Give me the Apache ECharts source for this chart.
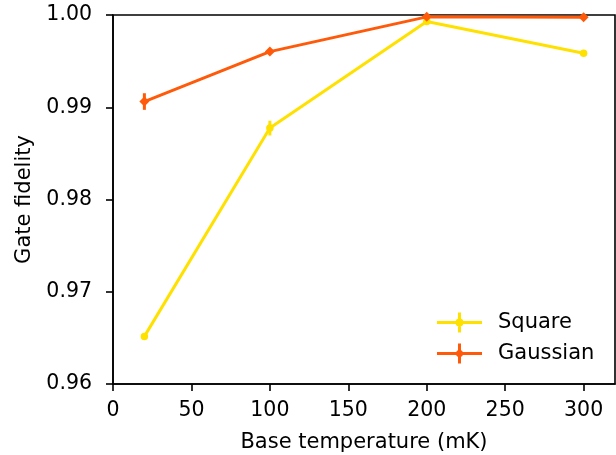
<!DOCTYPE html>
<html>
<head>
<meta charset="utf-8">
<script src="https://cdn.jsdelivr.net/npm/echarts@6/dist/echarts.min.js"></script>
<style>
  html, body { margin: 0; padding: 0; background: #fff; }
  #chart { width: 616px; height: 455px; }
</style>
</head>
<body>
<div id="chart"></div>
<script>
// data
var temps = [20, 100, 200, 300];
var square_fid = [0.96516, 0.98774, 0.99929, 0.99586];
var square_err = [0.0002, 0.0008, 0.0002, 0.0002];
var gauss_fid = [0.99062, 0.99603, 0.99980, 0.99975];
var gauss_err = [0.0009, 0.0002, 0.0001, 0.0001];
var x_ticks = [0, 50, 100, 150, 200, 250, 300];
var y_ticks = [0.96, 0.97, 0.98, 0.99, 1.00];

var SQ_COLOR = '#ffe100';
var GA_COLOR = '#ff5a0a';
var FONT = 'DejaVu Sans';

function pairs(xs, ys) {
    var out = [];
    for (var i = 0; i < xs.length; i++) out.push([xs[i], ys[i]]);
    return out;
}

function triples(xs, ys, es) {
    var out = [];
    for (var i = 0; i < xs.length; i++) out.push([xs[i], ys[i], es[i]]);
    return out;
}

// vertical error bar
function errbar(color) {
    return function (params, api) {
        var x = api.value(0), y = api.value(1), e = api.value(2);
        var p1 = api.coord([x, y - e]);
        var p2 = api.coord([x, y + e]);
        return {
            type: 'line',
            shape: {x1: p1[0], y1: p1[1], x2: p2[0], y2: p2[1]},
            style: {stroke: color, lineWidth: 3}
        };
    };
}

// legend icons: line + errorbar + marker
var icon_circle = 'path://M0 8.5H45V11.5H0Z M21 0H24V20H21Z M18.5 10A4 4 0 1 1 26.5 10A4 4 0 1 1 18.5 10Z';
var icon_diamond = 'path://M0 8.5H45V11.5H0Z M21 0H24V20H21Z M22.5 5L27.5 10L22.5 15L17.5 10Z';

var myChart = echarts.init(document.getElementById('chart'));
var option = {
    animation: false,
    backgroundColor: '#fff',
    textStyle: {fontFamily: FONT},
    grid: {
        left: 113, top: 15, width: 502, height: 369,
        show: true, borderColor: '#000', borderWidth: 1.6,
        containLabel: false,
        outerBoundsMode: 'none'
    },
    legend: {
        orient: 'vertical',
        left: 437, top: 312,
        padding: 0,
        itemWidth: 45, itemHeight: 20, itemGap: 10,
        itemStyle: {borderWidth: 0},
        textStyle: {fontFamily: FONT, fontSize: 21, color: '#000', padding: [0, 0, 0, 11]},
        data: [
            {name: 'Square', icon: icon_circle},
            {name: 'Gaussian', icon: icon_diamond}
        ]
    },
    xAxis: {
        type: 'value',
        min: 0, max: 320,
        name: 'Base temperature (mK)',
        nameLocation: 'middle',
        nameGap: 48,
        nameTextStyle: {fontFamily: FONT, fontSize: 21, color: '#000'},
        axisLine: {show: true, lineStyle: {color: '#000', width: 1.6}},
        axisTick: {show: true, length: 7, lineStyle: {color: '#000', width: 1.6}, customValues: x_ticks},
        axisLabel: {fontFamily: FONT, fontSize: 20.5, color: '#000', margin: 16, customValues: x_ticks},
        splitLine: {show: false}
    },
    yAxis: {
        type: 'value',
        min: 0.96, max: 1.0,
        name: 'Gate fidelity',
        nameLocation: 'middle',
        nameGap: 77,
        nameTextStyle: {fontFamily: FONT, fontSize: 21, color: '#000'},
        axisLine: {show: true, lineStyle: {color: '#000', width: 1.6}},
        axisTick: {show: true, length: 7, lineStyle: {color: '#000', width: 1.6}, customValues: y_ticks},
        axisLabel: {
            fontFamily: FONT, fontSize: 20.5, color: '#000', margin: 21,
            customValues: y_ticks,
            formatter: function (v) { return v.toFixed(2); }
        },
        splitLine: {show: false}
    },
    series: [
        {
            name: 'Square',
            type: 'line',
            data: pairs(temps, square_fid),
            symbol: 'circle',
            symbolSize: 7.5,
            itemStyle: {color: SQ_COLOR},
            lineStyle: {color: SQ_COLOR, width: 3},
            z: 2
        },
        {
            type: 'custom',
            renderItem: errbar(SQ_COLOR),
            data: triples(temps, square_fid, square_err),
            encode: {x: 0, y: 1},
            clip: false,
            z: 3
        },
        {
            name: 'Gaussian',
            type: 'line',
            data: pairs(temps, gauss_fid),
            symbol: 'diamond',
            symbolSize: 10,
            itemStyle: {color: GA_COLOR},
            lineStyle: {color: GA_COLOR, width: 3},
            z: 4
        },
        {
            type: 'custom',
            renderItem: errbar(GA_COLOR),
            data: triples(temps, gauss_fid, gauss_err),
            encode: {x: 0, y: 1},
            clip: false,
            z: 5
        }
    ]
};
myChart.setOption(option);
</script>
</body>
</html>
